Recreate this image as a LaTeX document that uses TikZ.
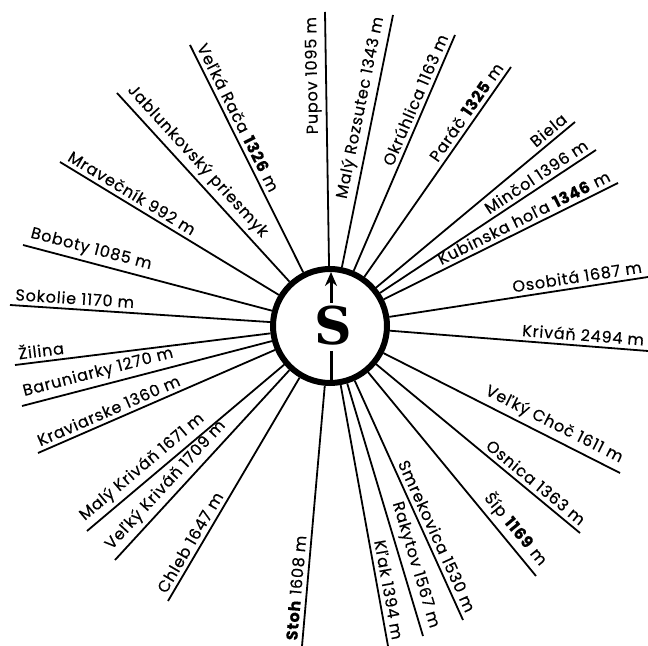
\documentclass[tikz,border=0pt]{standalone}
\usepackage{fontspec}
\newfontfamily\labfont[LetterSpace=5, FakeBold=0.4]{Poppins}
\newfontfamily\kompasfont{DejaVu Serif}
\usetikzlibrary{arrows.meta}
\begin{document}
\begin{tikzpicture}[x=0.5pt, y=-0.5pt,
    ray/.style={line width=0.9pt},
    rlab/.style={pos=1, sloped, anchor=south east, inner sep=2pt, font=\labfont\fontsize{8}{9}\selectfont},
    llab/.style={rlab, anchor=south west}]
    \useasboundingbox (0,0) rectangle (648,646);

    % Compass
    \node (kompas) [circle, draw, line width=3pt, minimum size=57pt, fill=white] at (330,326) {};
    \node (sever) at (333,326) {\kompasfont\bfseries\fontsize{26}{26}\selectfont S};
    \draw[line width=1.5pt, -{Stealth[length=7pt, width=6pt]}] (331,303) -- (331,272);
    \draw[line width=1.5pt] (331,351) -- (331,383);

    % Ray ends, west side
    \coordinate (raca) at (190,45);
    \coordinate (jablunkov) at (117,93);
    \coordinate (mravecnik) at (60,162);
    \coordinate (boboty) at (23,245);
    \coordinate (sokolie) at (10,305);
    \coordinate (zilina) at (15,365);
    \coordinate (baruniarky) at (22,406);
    \coordinate (kraviarske) at (38,453);
    \coordinate (malykrivan) at (87,531);
    \coordinate (velkykrivan) at (115,560);
    \coordinate (chleb) at (168,601);
    \coordinate (stoh) at (302,646);

    % Ray ends, east side
    \coordinate (pupov) at (325,12);
    \coordinate (rozsutec) at (393,15);
    \coordinate (okruhlica) at (455,35);
    \coordinate (parac) at (511,67);
    \coordinate (biela) at (575,122);
    \coordinate (mincol) at (596,150);
    \coordinate (kubinska) at (618,183);
    \coordinate (osobita) at (648,277);
    \coordinate (krivan) at (648,351);
    \coordinate (choc) at (620,473);
    \coordinate (osnica) at (580,533);
    \coordinate (sip) at (536,576);
    \coordinate (smrekovica) at (463,620);
    \coordinate (rakytov) at (423,636);
    \coordinate (klak) at (388,646);

    % Rays
    \draw[ray] (kompas) -- (raca) node[llab] {Veľká Rača \textbf{1326} m};
    \draw[ray] (kompas) -- (jablunkov) node[llab] {Jablunkovský priesmyk};
    \draw[ray] (kompas) -- (mravecnik) node[llab] {Mravečník 992 m};
    \draw[ray] (kompas) -- (boboty) node[llab] {Boboty 1085 m};
    \draw[ray] (kompas) -- (sokolie) node[llab] {Sokolie 1170 m};
    \draw[ray] (kompas) -- (zilina) node[llab] {Žilina};
    \draw[ray] (kompas) -- (baruniarky) node[llab] {Baruniarky 1270 m};
    \draw[ray] (kompas) -- (kraviarske) node[llab] {Kraviarske 1360 m};
    \draw[ray] (kompas) -- (malykrivan) node[llab] {Malý Kriváň 1671 m};
    \draw[ray] (kompas) -- (velkykrivan) node[llab] {Veľký Kriváň 1709 m};
    \draw[ray] (kompas) -- (chleb) node[llab] {Chleb 1647 m};
    \draw[ray] (kompas) -- (stoh) node[llab] {\textbf{Stoh} 1608 m};

    \draw[ray] (kompas) -- (pupov) node[rlab, allow upside down] {Pupov 1095 m};
    \draw[ray] (kompas) -- (rozsutec) node[rlab] {Malý Rozsutec 1343 m};
    \draw[ray] (kompas) -- (okruhlica) node[rlab] {Okrúhlica 1163 m};
    \draw[ray] (kompas) -- (parac) node[rlab] {Paráč \textbf{1325} m};
    \draw[ray] (kompas) -- (biela) node[rlab] {Biela};
    \draw[ray] (kompas) -- (mincol) node[rlab] {Minčol 1396 m};
    \draw[ray] (kompas) -- (kubinska) node[rlab] {Kubinska hoľa \textbf{1346} m};
    \draw[ray] (kompas) -- (osobita) node[rlab] {Osobitá 1687 m};
    \draw[ray] (kompas) -- (krivan) node[rlab] {Kriváň 2494 m};
    \draw[ray] (kompas) -- (choc) node[rlab] {Veľký Choč 1611 m};
    \draw[ray] (kompas) -- (osnica) node[rlab] {Osnica 1363 m};
    \draw[ray] (kompas) -- (sip) node[rlab] {Šíp \textbf{1169} m};
    \draw[ray] (kompas) -- (smrekovica) node[rlab] {Smrekovica 1530 m};
    \draw[ray] (kompas) -- (rakytov) node[rlab] {Rakytov 1567 m};
    \draw[ray] (kompas) -- (klak) node[rlab] {Kľak 1394 m};
\end{tikzpicture}
\end{document}
